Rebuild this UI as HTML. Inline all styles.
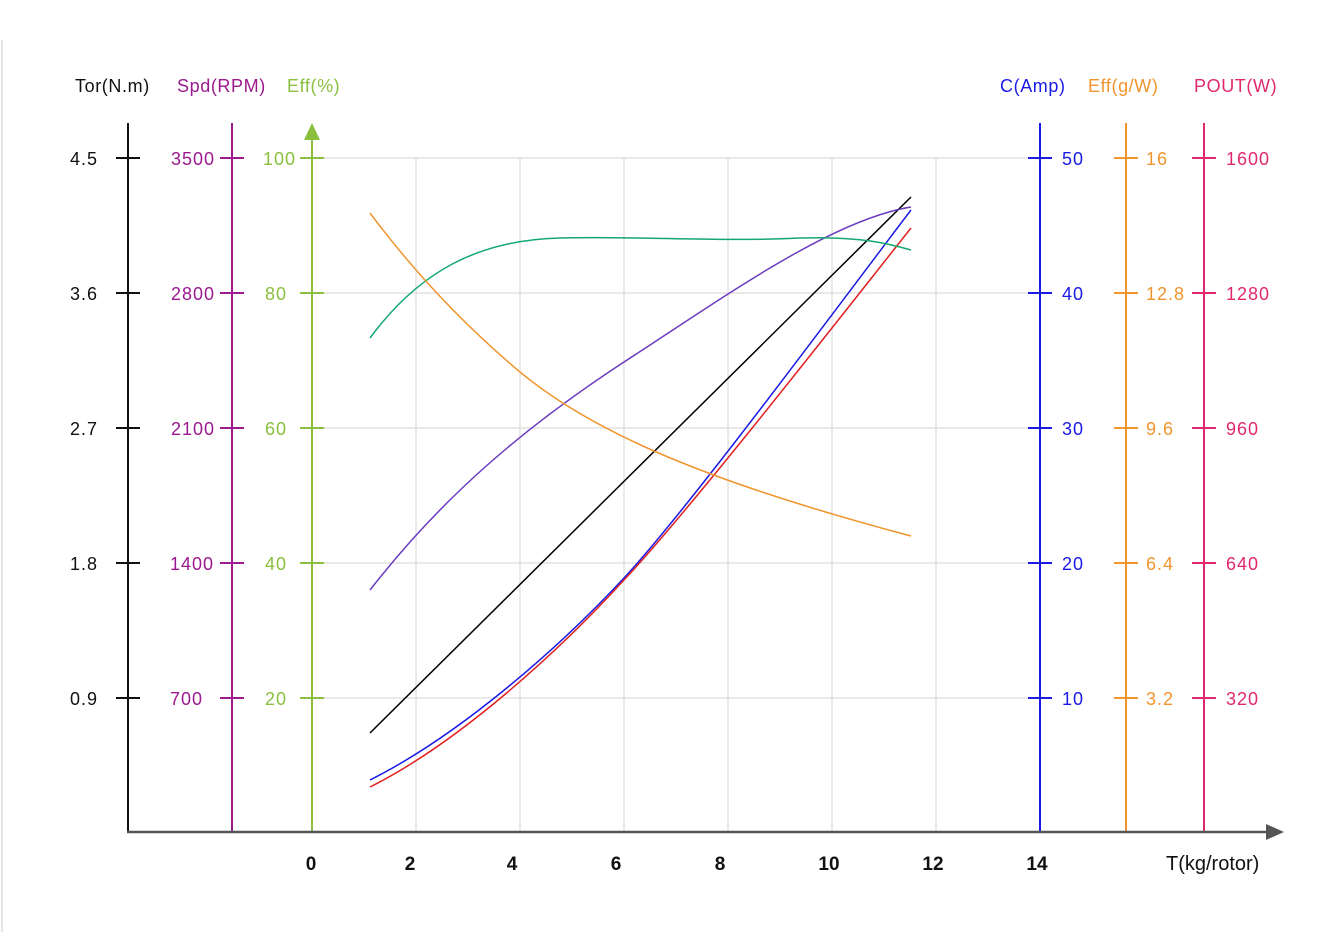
<!DOCTYPE html>
<html><head><meta charset="utf-8"><style>
html,body{margin:0;padding:0;background:#fff;}
svg{display:block;font-family:"Liberation Sans",sans-serif;}
</style></head><body>
<svg width="1326" height="932" viewBox="0 0 1326 932" xmlns="http://www.w3.org/2000/svg">
<rect width="1326" height="932" fill="#fff"/>
<line x1="2" y1="40" x2="2" y2="932" stroke="#e4e4e4" stroke-width="2"/>
<g stroke="#dcdcdc" stroke-width="1.2">
<line x1="312" y1="158" x2="1030" y2="158"/>
<line x1="312" y1="293" x2="1030" y2="293"/>
<line x1="312" y1="428" x2="1030" y2="428"/>
<line x1="312" y1="563" x2="1030" y2="563"/>
<line x1="312" y1="698" x2="1030" y2="698"/>
<line x1="416" y1="158" x2="416" y2="832"/>
<line x1="520" y1="158" x2="520" y2="832"/>
<line x1="624" y1="158" x2="624" y2="832"/>
<line x1="728" y1="158" x2="728" y2="832"/>
<line x1="832" y1="158" x2="832" y2="832"/>
<line x1="936" y1="158" x2="936" y2="832"/>
</g>
<g stroke-width="2">
<g stroke="#111"><line x1="128" y1="123" x2="128" y2="832"/>
<line x1="116" y1="158" x2="140" y2="158"/><line x1="116" y1="293" x2="140" y2="293"/><line x1="116" y1="428" x2="140" y2="428"/><line x1="116" y1="563" x2="140" y2="563"/><line x1="116" y1="698" x2="140" y2="698"/></g>
<g stroke="#9b1a8e"><line x1="232" y1="123" x2="232" y2="832"/>
<line x1="220" y1="158" x2="244" y2="158"/><line x1="220" y1="293" x2="244" y2="293"/><line x1="220" y1="428" x2="244" y2="428"/><line x1="220" y1="563" x2="244" y2="563"/><line x1="220" y1="698" x2="244" y2="698"/></g>
<g stroke="#8bbf3f"><line x1="312" y1="135" x2="312" y2="832"/>
<line x1="300" y1="158" x2="324" y2="158"/><line x1="300" y1="293" x2="324" y2="293"/><line x1="300" y1="428" x2="324" y2="428"/><line x1="300" y1="563" x2="324" y2="563"/><line x1="300" y1="698" x2="324" y2="698"/></g>
<g stroke="#1a1ae6"><line x1="1040" y1="123" x2="1040" y2="832"/>
<line x1="1028" y1="158" x2="1052" y2="158"/><line x1="1028" y1="293" x2="1052" y2="293"/><line x1="1028" y1="428" x2="1052" y2="428"/><line x1="1028" y1="563" x2="1052" y2="563"/><line x1="1028" y1="698" x2="1052" y2="698"/></g>
<g stroke="#f0952e"><line x1="1126" y1="123" x2="1126" y2="832"/>
<line x1="1114" y1="158" x2="1138" y2="158"/><line x1="1114" y1="293" x2="1138" y2="293"/><line x1="1114" y1="428" x2="1138" y2="428"/><line x1="1114" y1="563" x2="1138" y2="563"/><line x1="1114" y1="698" x2="1138" y2="698"/></g>
<g stroke="#e0286e"><line x1="1204" y1="123" x2="1204" y2="832"/>
<line x1="1192" y1="158" x2="1216" y2="158"/><line x1="1192" y1="293" x2="1216" y2="293"/><line x1="1192" y1="428" x2="1216" y2="428"/><line x1="1192" y1="563" x2="1216" y2="563"/><line x1="1192" y1="698" x2="1216" y2="698"/></g>
<line x1="127" y1="832" x2="1270" y2="832" stroke="#555" stroke-width="2.5"/>
</g>
<polygon points="304,140 312,123 320,140" fill="#8bbf3f"/>
<polygon points="1266,824 1284,832 1266,840" fill="#555"/>
<g font-size="18" letter-spacing="0.6">
<text x="75" y="92" fill="#111">Tor(N.m)</text>
<text x="177" y="92" fill="#9b1a8e">Spd(RPM)</text>
<text x="287" y="92" fill="#8bbf3f">Eff(%)</text>
<text x="1000" y="92" fill="#1a1ae6">C(Amp)</text>
<text x="1088" y="92" fill="#f0952e">Eff(g/W)</text>
<text x="1194" y="92" fill="#e0286e">POUT(W)</text>
</g>
<g font-size="18" letter-spacing="1">
<g fill="#111"><text x="70" y="165">4.5</text><text x="70" y="300">3.6</text><text x="70" y="435">2.7</text><text x="70" y="570">1.8</text><text x="70" y="705">0.9</text></g>
<g fill="#9b1a8e" text-anchor="end"><text x="215" y="165">3500</text><text x="215" y="300">2800</text><text x="215" y="435">2100</text><text x="214" y="570">1400</text><text x="203" y="705">700</text></g>
<g fill="#8bbf3f" text-anchor="end"><text x="296" y="165">100</text><text x="287" y="300">80</text><text x="287" y="435">60</text><text x="287" y="570">40</text><text x="287" y="705">20</text></g>
<g fill="#1a1ae6"><text x="1062" y="165">50</text><text x="1062" y="300">40</text><text x="1062" y="435">30</text><text x="1062" y="570">20</text><text x="1062" y="705">10</text></g>
<g fill="#f0952e"><text x="1146" y="165">16</text><text x="1146" y="300">12.8</text><text x="1146" y="435">9.6</text><text x="1146" y="570">6.4</text><text x="1146" y="705">3.2</text></g>
<g fill="#e0286e"><text x="1226" y="165">1600</text><text x="1226" y="300">1280</text><text x="1226" y="435">960</text><text x="1226" y="570">640</text><text x="1226" y="705">320</text></g>
</g>
<g fill="#111" text-anchor="middle" font-size="19" font-weight="bold"><text x="311" y="870">0</text><text x="410" y="870">2</text><text x="512" y="870">4</text><text x="616" y="870">6</text><text x="720" y="870">8</text><text x="829" y="870">10</text><text x="933" y="870">12</text><text x="1037" y="870">14</text></g>
<text x="1166" y="870" font-size="20" fill="#111">T(kg/rotor)</text>
<g fill="none" stroke-width="1.5">
<path d="M370,733 L911,197" stroke="#000"/>
<path d="M370,780 C460,735 560,647 624,578 C690,507 850,290 911,210" stroke="#1a1ae6"/>
<path d="M370,787 C460,742 560,650 624,580 C690,510 850,305 911,228" stroke="#e02020"/>
<path d="M370,590 C440,500 520,430 624,362 C720,300 830,220 911,207" stroke="#6a3cc0"/>
<path d="M370,338 C420,270 480,240 560,238 C640,236 720,242 800,238 C860,236 890,244 911,250" stroke="#14a870"/>
<path d="M370,213 C420,280 470,330 520,372 C590,430 700,480 911,536" stroke="#f0952e"/>
</g>
</svg>
</body></html>
